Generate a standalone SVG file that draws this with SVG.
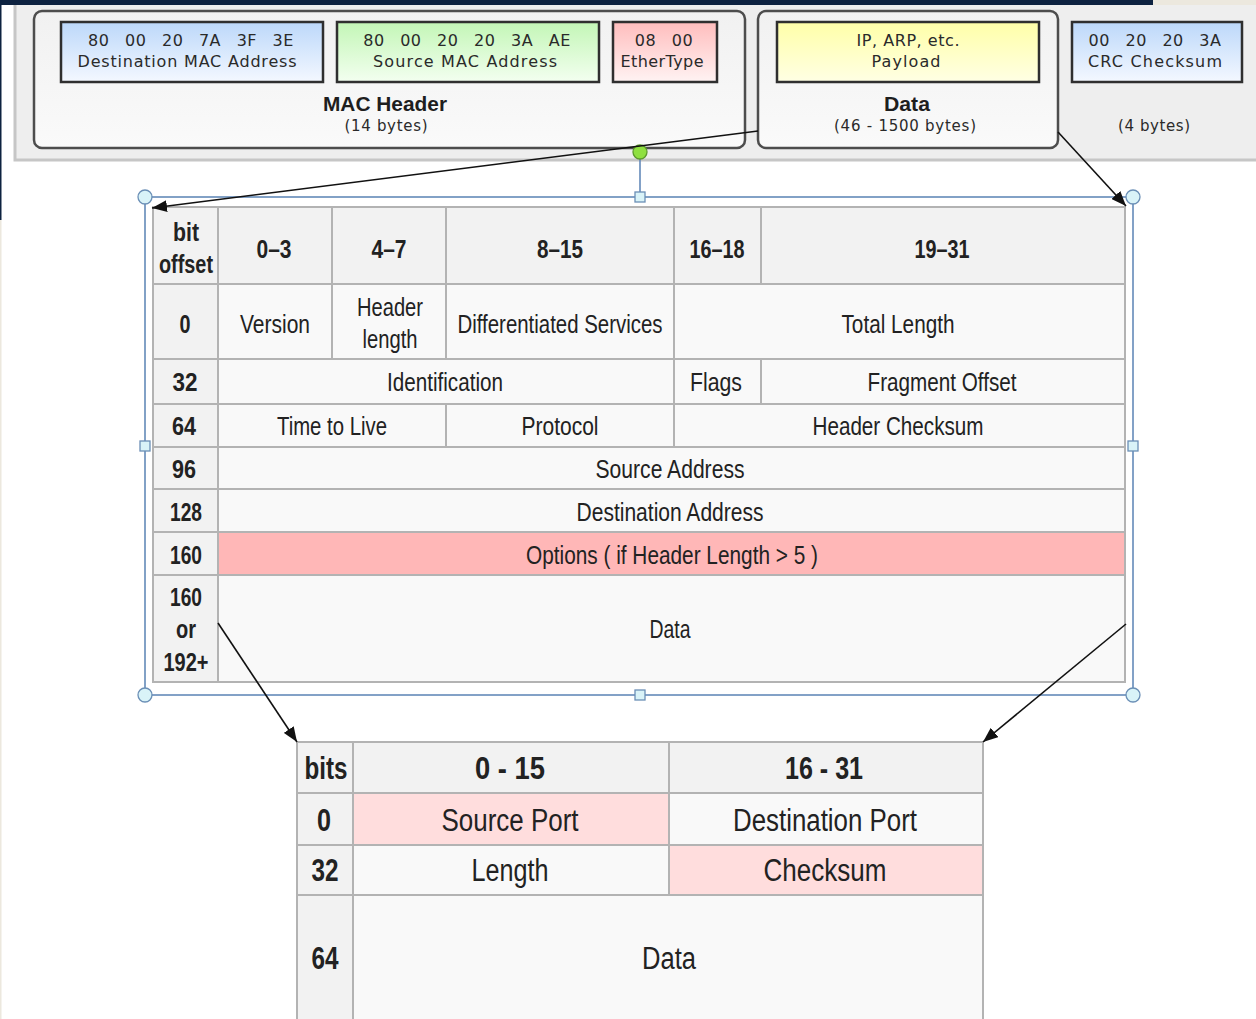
<svg xmlns="http://www.w3.org/2000/svg" width="1256" height="1019" viewBox="0 0 1256 1019">
<defs>
<linearGradient id="gBlue" x1="0" y1="0" x2="0" y2="1"><stop offset="0" stop-color="#bcd8fa"/><stop offset="1" stop-color="#f4f8ff"/></linearGradient>
<linearGradient id="gGreen" x1="0" y1="0" x2="0" y2="1"><stop offset="0" stop-color="#c3f6b6"/><stop offset="1" stop-color="#f3fff0"/></linearGradient>
<linearGradient id="gPink" x1="0" y1="0" x2="0" y2="1"><stop offset="0" stop-color="#ffbdbd"/><stop offset="1" stop-color="#fff3f3"/></linearGradient>
<linearGradient id="gYellow" x1="0" y1="0" x2="0" y2="1"><stop offset="0" stop-color="#ffffa8"/><stop offset="1" stop-color="#ffffe4"/></linearGradient>
<linearGradient id="gBox" x1="0" y1="0" x2="0" y2="1"><stop offset="0" stop-color="#f1f1f1"/><stop offset="1" stop-color="#fafafa"/></linearGradient>
<marker id="arr" markerUnits="userSpaceOnUse" markerWidth="16" markerHeight="12" refX="15" refY="6" orient="auto"><path d="M0,0 L15,6 L0,12 z" fill="#111"/></marker>
</defs>
<style>
.frame{fill:#eeeeee;stroke:#c6c6c6;stroke-width:3}
.rbox{fill:url(#gBox);stroke:#4d4d4d;stroke-width:2.5}
.fld{stroke:#2f2f2f;stroke-width:2.5}
.ft{font-family:"DejaVu Sans",Verdana,sans-serif;font-size:16px;fill:#2a2a2a;text-anchor:middle}
.sm{font-size:15px}
.hx{letter-spacing:0.5px;word-spacing:10px}
.fb{font-family:"Liberation Sans",Arial,sans-serif;font-weight:bold;font-size:20px;fill:#1e1e1e;text-anchor:middle}
.hd{fill:#f2f2f2;stroke:#b3b3b3;stroke-width:2}
.cl{fill:#f9f9f9;stroke:#b3b3b3;stroke-width:2}
.op{fill:#ffb7b7;stroke:#b3b3b3;stroke-width:2}
.up{fill:#ffdddd;stroke:#b3b3b3;stroke-width:2}
.t{font-family:"Liberation Sans",Arial,sans-serif;font-size:25px;fill:#222;text-anchor:middle}
.b{font-weight:bold}
.u{font-size:31px}
.conn{stroke:#111;stroke-width:1.6;fill:none}
.sel{stroke:#5a82b4;stroke-width:1.5;fill:none}
.hc{fill:#d9f3f8;stroke:#6b8fb6;stroke-width:1.3}
</style>
<rect x="0" y="0" width="1256" height="1019" fill="#ffffff"/>

<g id="ethernet-frame">
<rect class="frame" x="15" y="3" width="1250" height="157"/>
</g>
<rect x="0" y="0" width="1153" height="5" fill="#0d2240"/>
<rect x="1153" y="0" width="103" height="5" fill="#ece8de"/>
<rect x="0" y="0" width="1.5" height="220" fill="#0d2240"/>
<rect x="0" y="220" width="1.5" height="799" fill="#ece8de"/>

<g id="mac-header">
<rect class="rbox" x="34" y="11" width="711" height="137" rx="8"/>
<text class="fb" x="385" y="111" textLength="124" lengthAdjust="spacingAndGlyphs">MAC Header</text>
<text class="ft sm" x="386" y="131" textLength="83">(14 bytes)</text>
</g>
<g id="dest-mac">
<rect class="fld" fill="url(#gBlue)" x="61" y="22" width="262" height="60"/>
<text class="ft hx" x="191" y="46">80 00 20 7A 3F 3E</text>
<text class="ft" x="187" y="67" textLength="219">Destination MAC Address</text>
</g>
<g id="src-mac">
<rect class="fld" fill="url(#gGreen)" x="337" y="22" width="262" height="60"/>
<text class="ft hx" x="467" y="46">80 00 20 20 3A AE</text>
<text class="ft" x="465" y="67" textLength="184">Source MAC Address</text>
</g>
<g id="ethertype">
<rect class="fld" fill="url(#gPink)" x="613" y="22" width="104" height="60"/>
<text class="ft hx" x="664" y="46">08 00</text>
<text class="ft" x="662" y="67" textLength="83">EtherType</text>
</g>
<g id="data-frame">
<rect class="rbox" x="758" y="11" width="300" height="137" rx="8"/>
<text class="fb" x="907" y="111" textLength="46" lengthAdjust="spacingAndGlyphs">Data</text>
<text class="ft sm" x="905" y="131" textLength="142">(46 - 1500 bytes)</text>
</g>
<g id="payload">
<rect class="fld" fill="url(#gYellow)" x="777" y="22" width="262" height="60"/>
<text class="ft" x="908" y="46" textLength="103">IP, ARP, etc.</text>
<text class="ft" x="906" y="67" textLength="69">Payload</text>
</g>
<g id="crc">
<rect class="fld" fill="url(#gBlue)" x="1072" y="22" width="170" height="60"/>
<text class="ft hx" x="1155" y="46">00 20 20 3A</text>
<text class="ft" x="1155" y="67" textLength="134">CRC Checksum</text>
<text class="ft sm" x="1154" y="131" textLength="72">(4 bytes)</text>
</g>

<g id="ip-header">
<rect class="hd" x="153" y="207" width="65" height="77"/>
<rect class="hd" x="218" y="207" width="114" height="77"/>
<rect class="hd" x="332" y="207" width="114" height="77"/>
<rect class="hd" x="446" y="207" width="228" height="77"/>
<rect class="hd" x="674" y="207" width="87" height="77"/>
<rect class="hd" x="761" y="207" width="364" height="77"/>
<text class="t b" x="186" y="241" textLength="26" lengthAdjust="spacingAndGlyphs">bit</text>
<text class="t b" x="186" y="273" textLength="54" lengthAdjust="spacingAndGlyphs">offset</text>
<text class="t b" x="274" y="258" textLength="35" lengthAdjust="spacingAndGlyphs">0–3</text>
<text class="t b" x="389" y="258" textLength="35" lengthAdjust="spacingAndGlyphs">4–7</text>
<text class="t b" x="560" y="258" textLength="46" lengthAdjust="spacingAndGlyphs">8–15</text>
<text class="t b" x="717" y="258" textLength="55" lengthAdjust="spacingAndGlyphs">16–18</text>
<text class="t b" x="942" y="258" textLength="55" lengthAdjust="spacingAndGlyphs">19–31</text>

<rect class="hd" x="153" y="284" width="65" height="75"/>
<rect class="cl" x="218" y="284" width="114" height="75"/>
<rect class="cl" x="332" y="284" width="114" height="75"/>
<rect class="cl" x="446" y="284" width="228" height="75"/>
<rect class="cl" x="674" y="284" width="451" height="75"/>
<text class="t b" x="185" y="333" textLength="11" lengthAdjust="spacingAndGlyphs">0</text>
<text class="t" x="275" y="333" textLength="70" lengthAdjust="spacingAndGlyphs">Version</text>
<text class="t" x="390" y="316" textLength="66" lengthAdjust="spacingAndGlyphs">Header</text>
<text class="t" x="390" y="348" textLength="55" lengthAdjust="spacingAndGlyphs">length</text>
<text class="t" x="560" y="333" textLength="205" lengthAdjust="spacingAndGlyphs">Differentiated Services</text>
<text class="t" x="898" y="333" textLength="113" lengthAdjust="spacingAndGlyphs">Total Length</text>

<rect class="hd" x="153" y="359" width="65" height="45"/>
<rect class="cl" x="218" y="359" width="456" height="45"/>
<rect class="cl" x="674" y="359" width="87" height="45"/>
<rect class="cl" x="761" y="359" width="364" height="45"/>
<text class="t b" x="185" y="391" textLength="25" lengthAdjust="spacingAndGlyphs">32</text>
<text class="t" x="445" y="391" textLength="116" lengthAdjust="spacingAndGlyphs">Identification</text>
<text class="t" x="716" y="391" textLength="52" lengthAdjust="spacingAndGlyphs">Flags</text>
<text class="t" x="942" y="391" textLength="149" lengthAdjust="spacingAndGlyphs">Fragment Offset</text>

<rect class="hd" x="153" y="404" width="65" height="43"/>
<rect class="cl" x="218" y="404" width="228" height="43"/>
<rect class="cl" x="446" y="404" width="228" height="43"/>
<rect class="cl" x="674" y="404" width="451" height="43"/>
<text class="t b" x="184" y="435" textLength="24" lengthAdjust="spacingAndGlyphs">64</text>
<text class="t" x="332" y="435" textLength="110" lengthAdjust="spacingAndGlyphs">Time to Live</text>
<text class="t" x="560" y="435" textLength="77" lengthAdjust="spacingAndGlyphs">Protocol</text>
<text class="t" x="898" y="435" textLength="171" lengthAdjust="spacingAndGlyphs">Header Checksum</text>

<rect class="hd" x="153" y="447" width="65" height="42"/>
<rect class="cl" x="218" y="447" width="907" height="42"/>
<text class="t b" x="184" y="478" textLength="24" lengthAdjust="spacingAndGlyphs">96</text>
<text class="t" x="670" y="478" textLength="149" lengthAdjust="spacingAndGlyphs">Source Address</text>

<rect class="hd" x="153" y="489" width="65" height="43"/>
<rect class="cl" x="218" y="489" width="907" height="43"/>
<text class="t b" x="186" y="521" textLength="32" lengthAdjust="spacingAndGlyphs">128</text>
<text class="t" x="670" y="521" textLength="187" lengthAdjust="spacingAndGlyphs">Destination Address</text>

<rect class="hd" x="153" y="532" width="65" height="43"/>
<rect class="op" x="218" y="532" width="907" height="43"/>
<text class="t b" x="186" y="564" textLength="32" lengthAdjust="spacingAndGlyphs">160</text>
<text class="t" x="672" y="564" textLength="292" lengthAdjust="spacingAndGlyphs">Options ( if Header Length &gt; 5 )</text>

<rect class="hd" x="153" y="575" width="65" height="107"/>
<rect class="cl" x="218" y="575" width="907" height="107"/>
<text class="t b" x="186" y="606" textLength="32" lengthAdjust="spacingAndGlyphs">160</text>
<text class="t b" x="186" y="638" textLength="20" lengthAdjust="spacingAndGlyphs">or</text>
<text class="t b" x="186" y="671" textLength="45" lengthAdjust="spacingAndGlyphs">192+</text>
<text class="t" x="670" y="638" textLength="41" lengthAdjust="spacingAndGlyphs">Data</text>
</g>

<g id="selection">
<rect class="sel" x="145" y="197" width="988" height="498"/>
<line class="sel" x1="640" y1="159" x2="640" y2="197"/>
<circle cx="640" cy="152" r="7" fill="#8fe040" stroke="#5c9a2c" stroke-width="1.3"/>
<circle class="hc" cx="145" cy="197" r="7"/>
<circle class="hc" cx="1133" cy="197" r="7"/>
<circle class="hc" cx="145" cy="695" r="7"/>
<circle class="hc" cx="1133" cy="695" r="7"/>
<rect class="hc" x="635" y="192" width="10" height="10"/>
<rect class="hc" x="635" y="690" width="10" height="10"/>
<rect class="hc" x="140" y="441" width="10" height="10"/>
<rect class="hc" x="1128" y="441" width="10" height="10"/>
</g>

<g id="udp-header">
<rect class="hd" x="297" y="742" width="56" height="51"/>
<rect class="hd" x="353" y="742" width="316" height="51"/>
<rect class="hd" x="669" y="742" width="314" height="51"/>
<text class="t u b" x="326" y="779" textLength="43" lengthAdjust="spacingAndGlyphs">bits</text>
<text class="t u b" x="510" y="779" textLength="70" lengthAdjust="spacingAndGlyphs">0 - 15</text>
<text class="t u b" x="824" y="779" textLength="78" lengthAdjust="spacingAndGlyphs">16 - 31</text>

<rect class="hd" x="297" y="793" width="56" height="52"/>
<rect class="up" x="353" y="793" width="316" height="52"/>
<rect class="cl" x="669" y="793" width="314" height="52"/>
<text class="t u b" x="324" y="831" textLength="14" lengthAdjust="spacingAndGlyphs">0</text>
<text class="t u" x="510" y="831" textLength="137" lengthAdjust="spacingAndGlyphs">Source Port</text>
<text class="t u" x="825" y="831" textLength="184" lengthAdjust="spacingAndGlyphs">Destination Port</text>

<rect class="hd" x="297" y="845" width="56" height="50"/>
<rect class="cl" x="353" y="845" width="316" height="50"/>
<rect class="up" x="669" y="845" width="314" height="50"/>
<text class="t u b" x="325" y="881" textLength="27" lengthAdjust="spacingAndGlyphs">32</text>
<text class="t u" x="510" y="881" textLength="77" lengthAdjust="spacingAndGlyphs">Length</text>
<text class="t u" x="825" y="881" textLength="123" lengthAdjust="spacingAndGlyphs">Checksum</text>

<rect class="hd" x="297" y="895" width="56" height="135"/>
<rect class="cl" x="353" y="895" width="630" height="135"/>
<text class="t u b" x="325" y="969" textLength="27" lengthAdjust="spacingAndGlyphs">64</text>
<text class="t u" x="669" y="969" textLength="54" lengthAdjust="spacingAndGlyphs">Data</text>
</g>

<g id="connectors">
<line class="conn" x1="758" y1="131" x2="152" y2="208" marker-end="url(#arr)"/>
<line class="conn" x1="1058" y1="132" x2="1126" y2="206" marker-end="url(#arr)"/>
<line class="conn" x1="218" y1="623" x2="297" y2="742" marker-end="url(#arr)"/>
<line class="conn" x1="1126" y1="624" x2="983" y2="742" marker-end="url(#arr)"/>
</g>
</svg>
